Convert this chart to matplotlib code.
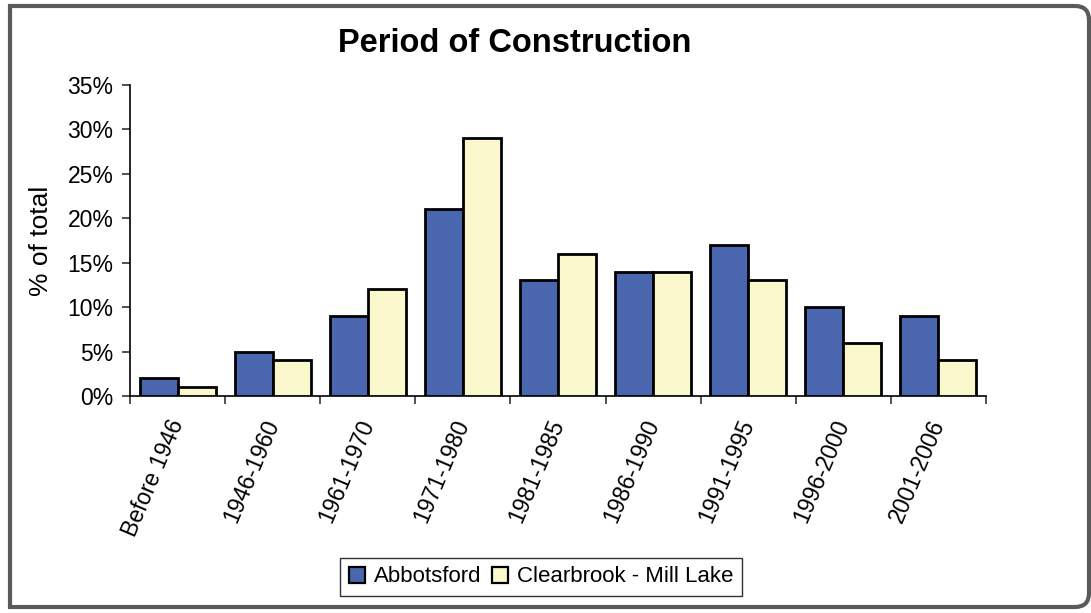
import matplotlib
matplotlib.use("Agg")
import matplotlib.pyplot as plt
import numpy as np
from matplotlib.path import Path
from matplotlib.patches import PathPatch
from matplotlib.ticker import FuncFormatter, FixedLocator

plt.rcParams['font.family'] = ['Liberation Sans', 'DejaVu Sans']

categories = ["Before 1946", "1946-1960", "1961-1970", "1971-1980", "1981-1985",
              "1986-1990", "1991-1995", "1996-2000", "2001-2006"]
abbotsford = [2, 5, 9, 21, 13, 14, 17, 10, 9]
clearbrook = [1, 4, 12, 29, 16, 14, 13, 6, 4]
series_names = ["Abbotsford", "Clearbrook - Mill Lake"]

W, H = 1091, 613
fig = plt.figure(figsize=(W / 100, H / 100), dpi=100)
ax = fig.add_axes([130 / W, 1 - 396 / H, (986 - 130) / W, (396 - 85) / H])

x = np.arange(len(categories))
bw = 0.4
ax.bar(x - bw / 2, abbotsford, bw, color="#4A66AE", edgecolor="black", linewidth=2.0,
       label=series_names[0], zorder=3)
ax.bar(x + bw / 2, clearbrook, bw, color="#FCF8CE", edgecolor="black", linewidth=2.0,
       label=series_names[1], zorder=3)

ax.set_xlim(-0.5, len(categories) - 0.5)
ax.set_ylim(0, 35)
ax.yaxis.set_major_locator(FixedLocator(np.arange(0, 36, 5)))
ax.yaxis.set_major_formatter(FuncFormatter(lambda v, p: f"{int(v)}%"))
ax.set_xticks(x)
ax.set_xticklabels(categories, rotation=67, ha="right", va="center",
                   rotation_mode="anchor", fontsize=16.5)
ax.tick_params(axis="x", which="major", length=0, pad=18)
ax.set_xticks(np.arange(-0.5, len(categories)), minor=True)
ax.tick_params(axis="x", which="minor", length=6, width=1.2, color="#333333", direction="out")
ax.tick_params(axis="y", length=6, width=1.2, color="#333333", labelsize=16.5, pad=6)

for s in ["top", "right"]:
    ax.spines[s].set_visible(False)
for s in ["left", "bottom"]:
    ax.spines[s].set_color("black")
    ax.spines[s].set_linewidth(1.2)

ax.set_ylabel("% of total", fontsize=19, labelpad=10)
fig.text(515 / W, 1 - 44 / H, "Period of Construction", ha="center", va="center",
         fontsize=23.5, fontweight="bold")

leg = fig.legend(loc="center", bbox_to_anchor=(541 / W, 1 - 577 / H), ncol=2,
                 fontsize=16, frameon=True, fancybox=False, edgecolor="black",
                 handlelength=0.7, handleheight=0.7, handletextpad=0.4,
                 columnspacing=0.5, borderpad=0.4)
leg.get_frame().set_linewidth(1.0)
for h in leg.legend_handles:
    h.set_linewidth(1.6)

# outer frame with rounded right corners
r = 14
verts = [(1089 - r, 6), (10, 6), (10, 607), (1089 - r, 607),
         (1089, 607), (1089, 607 - r), (1089, 6 + r), (1089, 6), (1089 - r, 6)]
codes = [Path.MOVETO, Path.LINETO, Path.LINETO, Path.LINETO,
         Path.CURVE3, Path.CURVE3, Path.LINETO, Path.CURVE3, Path.CURVE3]
verts = [(vx / W, 1 - vy / H) for vx, vy in verts]
fig.patches.append(PathPatch(Path(verts, codes), transform=fig.transFigure,
                             facecolor="none", edgecolor="#5A5A5A", linewidth=3))

fig.savefig("out.png", dpi=100)
